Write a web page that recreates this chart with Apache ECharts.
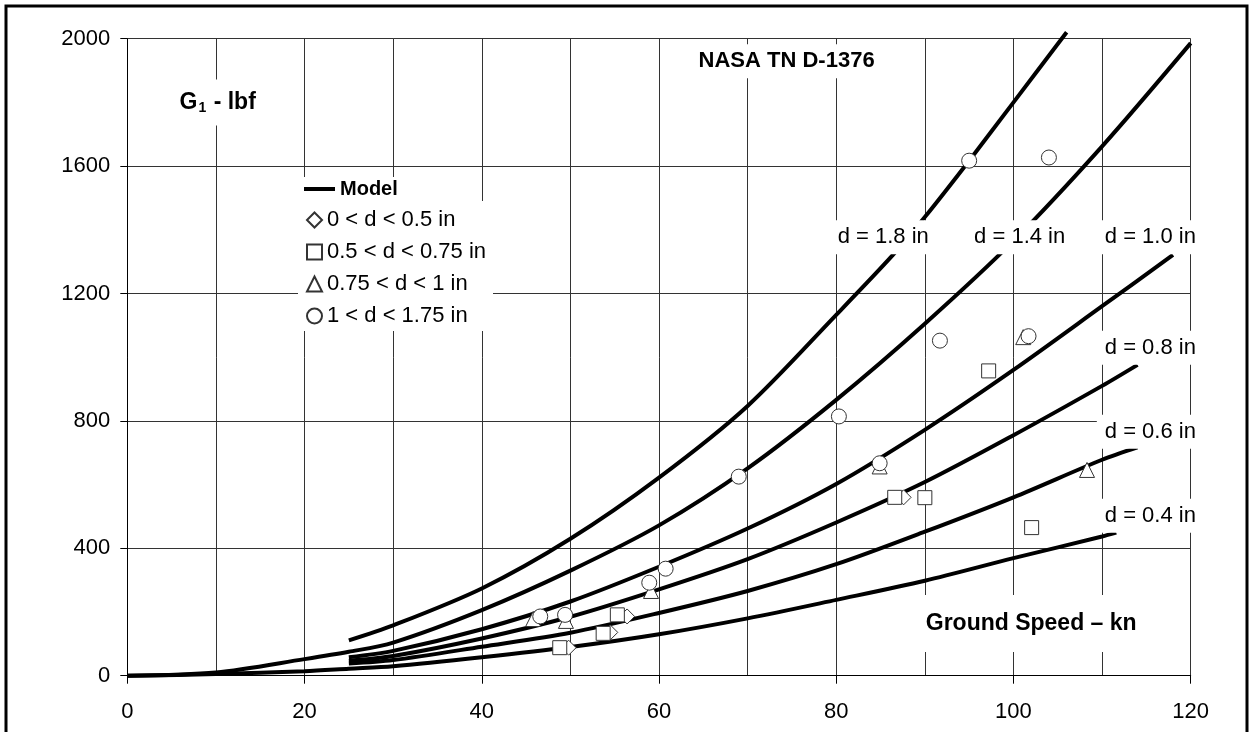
<!DOCTYPE html>
<html>
<head>
<meta charset="utf-8">
<script src="https://cdn.jsdelivr.net/npm/echarts@6/dist/echarts.min.js"></script>
<style>
  html, body { margin: 0; padding: 0; background: #fff; }
  #chart { width: 1253px; height: 732px; }
</style>
</head>
<body>
<div id="chart"></div>
<script>
const FONT = 'Arial, "Liberation Sans", sans-serif'

// model curves: ground speed (kn) vs G1 (lbf)
const d18Speed = [25, 30, 40, 50, 60, 70, 80, 86.4, 90, 95, 100, 106]
const d18Load  = [111, 158, 274, 430, 622, 847, 1133, 1321, 1440, 1617, 1800, 2020]
const d14Speed = [0, 10, 20, 25, 30, 40, 50, 60, 70, 80, 90, 100, 110, 120]
const d14Load  = [0, 10, 52, 75, 104, 206, 330, 472, 651, 866, 1105, 1365, 1662, 1986]
const d10Speed = [25, 30, 40, 50, 60, 70, 80, 90, 100, 110, 118]
const d10Load  = [58, 78, 146, 233, 342, 462, 602, 772, 960, 1160, 1321]
const d08Speed = [25, 30, 40, 50, 60, 70, 80, 90, 100, 110, 114]
const d08Load  = [47, 62, 117, 185, 271, 366, 481, 608, 755, 910, 976]
const d06Speed = [25, 30, 40, 50, 60, 70, 80, 90, 100, 110, 114]
const d06Load  = [38, 49, 91, 135, 197, 266, 350, 452, 560, 678, 717]
const d04Speed = [0, 10, 20, 25, 30, 40, 50, 60, 70, 80, 90, 100, 110, 111.6]
const d04Load  = [0, 5, 14, 22, 30, 58, 90, 130, 180, 238, 298, 369, 437, 449]

// test points
const diamondSpeed  = [49.8, 54.5, 56.4, 87.6]
const diamondLoad   = [88, 136, 186, 560]
const squareSpeed   = [48.8, 53.7, 55.3, 86.6, 90.0, 97.2, 102.05]
const squareLoad    = [88, 133, 191, 560, 559, 957, 465]
const triangleSpeed = [45.8, 49.5, 59.1, 84.9, 101.1, 108.3]
const triangleLoad  = [178, 172, 266, 657, 1063, 646]
const circleSpeed   = [46.6, 49.4, 58.9, 60.75, 69.0, 80.3, 84.9, 91.7, 95.0, 101.7, 104.0]
const circleLoad    = [186, 191, 292, 336, 625, 814, 667, 1052, 1617, 1066, 1627]

// curve labels and where they sit (data units)
const curveLabels = ['d = 1.8 in', 'd = 1.4 in', 'd = 1.0 in', 'd = 0.8 in', 'd = 0.6 in', 'd = 0.4 in']
const curveLabelSpeed = [85.3, 100.7, 115.45, 115.45, 115.45, 115.45]
const curveLabelLoad  = [1377, 1377, 1377, 1030, 766, 502]

const xTicks = [0, 20, 40, 60, 80, 100, 120]
const yTicks = [0, 400, 800, 1200, 1600, 2000]

const pts = (xs, ys) => xs.map((x, i) => [x, ys[i]])

const chart = echarts.init(document.getElementById('chart'))

const modelLine = (data) => ({
  name: 'Model',
  type: 'line',
  data,
  symbol: 'none',
  smooth: 0.3,
  clip: false,
  lineStyle: { color: '#000', width: 4 },
  itemStyle: { color: '#000' },
  z: 2
})

const points = (name, symbol, size, data) => ({
  name,
  type: 'scatter',
  symbol,
  symbolSize: size,
  data,
  itemStyle: { color: '#fff', borderColor: '#333', borderWidth: 1, opacity: 1 },
  z: 3
})

const labelBox = { backgroundColor: '#fff', color: '#000', fontFamily: FONT, textBorderWidth: 0 }

const annotations = curveLabels.map((t, i) => ({
  name: t,
  value: [curveLabelSpeed[i], curveLabelLoad[i]],
  label: { fontSize: 22, padding: [6, 8, 6, 8] }
}))
annotations.push({
  name: 'NASA TN D-1376',
  value: [74.4, 1929],
  label: { fontSize: 22, fontWeight: 'bold', padding: [6, 8, 6, 8] }
})
annotations.push({
  name: 'Ground Speed \u2013 kn',
  value: [102.0, 164],
  label: { fontSize: 23, fontWeight: 'bold', padding: [17, 16, 17, 16] }
})
annotations.push({
  name: 'G1',
  value: [10.2, 1800],
  label: {
    padding: [10, 8, 10, 8],
    formatter: '{b|G}{s|1}{b| - lbf}',
    rich: {
      b: { fontSize: 23, fontWeight: 'bold', fontFamily: FONT, color: '#000', verticalAlign: 'middle' },
      s: { fontSize: 14, fontWeight: 'bold', fontFamily: FONT, color: '#000', verticalAlign: 'bottom', padding: [12, 1, 0, 1] }
    }
  }
})

const option = {
  animation: false,
  backgroundColor: '#fff',
  grid: { left: 127.3, right: 62.3, top: 38.7, bottom: 56.3, containLabel: false },
  xAxis: {
    type: 'value',
    min: xTicks[0],
    max: xTicks[xTicks.length - 1],
    interval: 20,
    axisLine: { show: true, onZero: false, lineStyle: { color: '#000', width: 1 } },
    axisTick: { show: true, length: 8, lineStyle: { color: '#000' } },
    axisLabel: { color: '#000', fontSize: 22, fontFamily: FONT, margin: 25, formatter: (v) => String(v) },
    splitLine: { show: true, lineStyle: { color: '#333', width: 1 } },
    minorTick: { show: false, splitNumber: 2 },
    minorSplitLine: { show: true, lineStyle: { color: '#333', width: 1 } }
  },
  yAxis: {
    type: 'value',
    min: yTicks[0],
    max: yTicks[yTicks.length - 1],
    interval: 400,
    axisLine: { show: true, onZero: false, lineStyle: { color: '#000', width: 1 } },
    axisTick: { show: true, length: 7, lineStyle: { color: '#000' } },
    axisLabel: { color: '#000', fontSize: 22, fontFamily: FONT, margin: 17, formatter: (v) => String(v) },
    splitLine: { show: true, lineStyle: { color: '#333', width: 1 } }
  },
  legend: [
    {
      data: [{ name: 'Model', icon: 'rect' }],
      orient: 'vertical',
      left: 298,
      top: 177,
      padding: [2, 14, 2, 6],
      backgroundColor: '#fff',
      itemWidth: 31,
      itemHeight: 4,
      itemStyle: { color: '#000', borderWidth: 0 },
      textStyle: { fontFamily: FONT, fontSize: 20, fontWeight: 'bold', color: '#000', lineHeight: 20 }
    },
    {
      data: ['0 < d < 0.5 in', '0.5 < d < 0.75 in', '0.75 < d < 1 in', '1 < d < 1.75 in'],
      orient: 'vertical',
      left: 298,
      top: 201,
      padding: [8, 7, 4, 8],
      itemGap: 10,
      backgroundColor: '#fff',
      itemWidth: 15,
      itemHeight: 15,
      textStyle: { fontFamily: FONT, fontSize: 22, color: '#000' }
    }
  ],
  series: [
    modelLine(pts(d18Speed, d18Load)),
    modelLine(pts(d14Speed, d14Load)),
    modelLine(pts(d10Speed, d10Load)),
    modelLine(pts(d08Speed, d08Load)),
    modelLine(pts(d06Speed, d06Load)),
    modelLine(pts(d04Speed, d04Load)),
    points('0 < d < 0.5 in', 'diamond', 15, pts(diamondSpeed, diamondLoad)),
    points('0.5 < d < 0.75 in', 'rect', 14, pts(squareSpeed, squareLoad)),
    points('0.75 < d < 1 in', 'triangle', 15, pts(triangleSpeed, triangleLoad)),
    points('1 < d < 1.75 in', 'circle', 15, pts(circleSpeed, circleLoad)),
    {
      name: 'annotations',
      type: 'scatter',
      symbolSize: 1,
      itemStyle: { color: 'rgba(0,0,0,0)', opacity: 1 },
      label: Object.assign({ show: true, position: 'inside', formatter: '{b}' }, labelBox),
      data: annotations,
      z: 5,
      silent: true
    }
  ],
  graphic: [
    {
      type: 'rect',
      shape: { x: 6, y: 6, width: 1241, height: 760 },
      style: { fill: null, stroke: '#000', lineWidth: 3 },
      z: 100
    }
  ]
}

chart.setOption(option)
window.addEventListener('resize', () => chart.resize())
</script>
</body>
</html>
